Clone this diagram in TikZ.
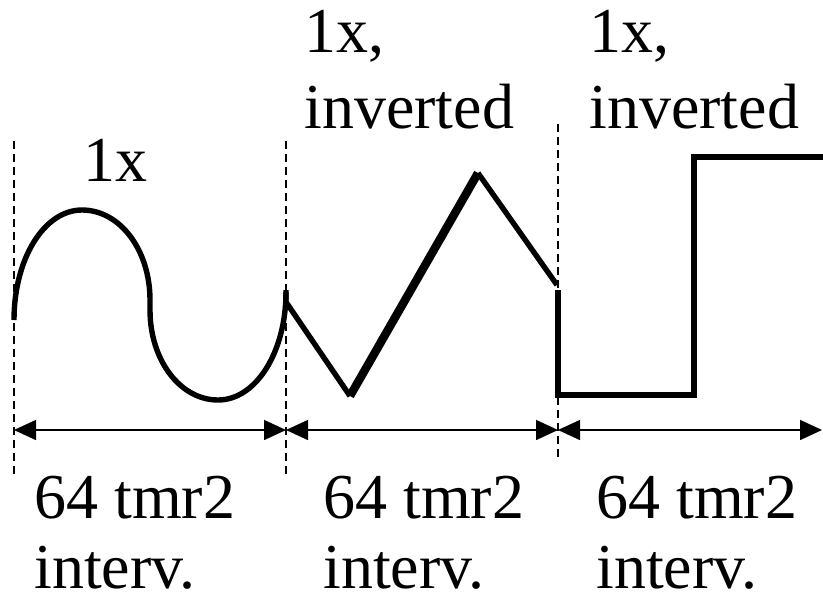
\documentclass[tikz,border=0pt]{standalone}
\usepackage{fontspec}
\setmainfont{Liberation Serif}
\usetikzlibrary{arrows.meta}

\begin{document}
\begin{tikzpicture}[
    x=0.5pt, y=-0.5pt,
    wave/.style={line width=2.7pt, line join=miter},
    guide/.style={line width=0.7pt, dash pattern=on 4pt off 2.5pt},
    interval/.style={line width=0.75pt, {Triangle[length=11pt,width=10pt]}-{Triangle[length=11pt,width=10pt]}},
    toptext/.style={font=\fontsize{32}{38}\selectfont, anchor=base west, inner sep=0pt, align=left},
    bottext/.style={font=\fontsize{32}{35}\selectfont, anchor=base west, inner sep=0pt, align=left}
]
\useasboundingbox (0,0) rectangle (823,599);

% Section borders
\coordinate (g1t) at (14,141);  \coordinate (g1b) at (14,476);
\coordinate (g2t) at (286,141); \coordinate (g2b) at (286,476);
\coordinate (g3t) at (558,124); \coordinate (g3b) at (558,460);
\draw[guide] (g1t) -- (g1b);
\draw[guide] (g2t) -- (g2b);
\draw[guide] (g3t) -- (g3b);

% Intervals
\coordinate (a1) at (14,430);
\coordinate (a2) at (286,430);
\coordinate (a3) at (558,430);
\coordinate (a4) at (822,430);
\draw[interval] (a1) -- (a2);
\draw[interval] (a2) -- (a3);
\draw[interval] (a3) -- (a4);

% Sine
\draw[wave] (14,320) .. controls (14,259) and (44,210) .. (82,210)
  .. controls (120,210) and (150,250) .. (150,300) -- (150,310)
  .. controls (150,360) and (180,400) .. (218,400)
  .. controls (256,400) and (286,352) .. (286,292);

% Triangle
\draw[wave] (286,290) -- (286,302) -- (350,396);
\draw[wave, line width=4.2pt] (350,396) -- (478,173);
\draw[wave] (478,173) -- (557,285);

% Square
\draw[wave] (558,290) -- (558,395) -- (694,395) -- (694,157) -- (823,157);

% Labels (base = last line)
\node[toptext] (sinlbl) at (83,181) {1x};
\node[toptext] (trilbl) at (304,128) {1x,\\inverted};
\node[toptext] (sqrlbl) at (589,128) {1x,\\inverted};

\node[bottext] (int1) at (34,588) {64 tmr2\\interv.};
\node[bottext] (int2) at (323,588) {64 tmr2\\interv.};
\node[bottext] (int3) at (596,588) {64 tmr2\\interv.};

\end{tikzpicture}
\end{document}
